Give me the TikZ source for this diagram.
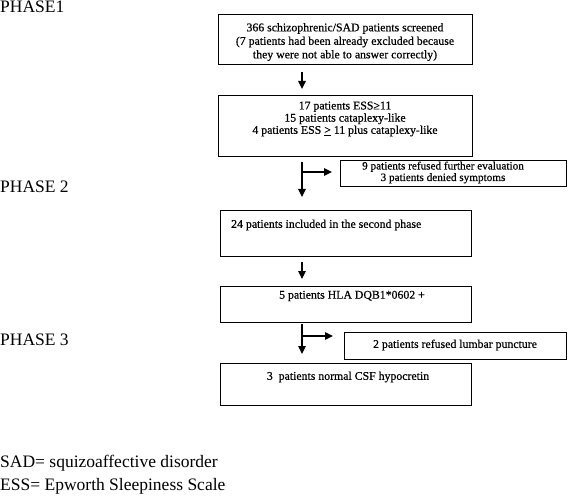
\documentclass[tikz,border=0pt]{standalone}
\usepackage{fontspec}
\setmainfont{Liberation Serif}
\newfontfamily\boxfont[FakeBold=0.5]{Liberation Serif}
\usetikzlibrary{arrows.meta}
\begin{document}
\begin{tikzpicture}[x=1pt,y=-1pt,
  box/.style={draw, line width=1.2pt, inner sep=0pt, anchor=north west},
  txt/.style={inner sep=0pt, align=center, font=\boxfont\fontsize{11.8}{13.5}\selectfont},
  stxt/.style={txt, font=\boxfont\fontsize{11.2}{11.5}\selectfont},
  big/.style={inner sep=0pt, anchor=base west, font=\fontsize{17.5}{20}\selectfont},
  arr/.style={line width=1.2pt, -{Triangle[length=8pt,width=7.5pt]}}]
\useasboundingbox (0,0) rectangle (568,500);
% boxes
\node[box, minimum width=254pt, minimum height=50pt] (b1) at (218,14) {};
\node[box, minimum width=254pt, minimum height=61pt] (b2) at (218,95) {};
\node[box, minimum width=226pt, minimum height=26pt] (s1) at (340,160) {};
\node[box, minimum width=251pt, minimum height=46pt] (b3) at (220,210) {};
\node[box, minimum width=251pt, minimum height=36pt] (b4) at (220,286) {};
\node[box, minimum width=222pt, minimum height=27pt] (s2) at (344,332) {};
\node[box, minimum width=251pt, minimum height=42pt] (b5) at (220,363) {};
% texts
\node[txt] (t1) at (345,42) {366 schizophrenic/SAD patients screened\\(7 patients had been already excluded because\\they were not able to answer correctly)};
\node[stxt, font=\boxfont\fontsize{11.8}{12.2}\selectfont] (t2) at (345,119) {17 patients ESS≥11\\15 patients cataplexy-like\\4 patients ESS \underline{>} 11 plus cataplexy-like};
\node[stxt] (ts1) at (443,172.5) {9 patients refused further evaluation\\3 patients denied symptoms};
\node[txt, anchor=west] (t3) at (231,225) {24 patients included in the second phase};
\node[txt] (t4) at (352,296) {5 patients HLA DQB1*0602 +};
\node[txt] (ts2) at (455,345) {2 patients refused lumbar puncture};
\node[txt] (t5) at (348,377) {3\ \ patients normal CSF hypocretin};
% phase labels
\node[big] (p1) at (0,13) {PHASE1};
\node[big] (p2) at (0,193) {PHASE 2};
\node[big] (p3) at (0,345) {PHASE 3};
\node[big] (n1) at (0,467) {SAD= squizoaffective disorder};
\node[big] (n2) at (0,490) {ESS= Epworth Sleepiness Scale};
% connectors
\coordinate (ax) at (302,0);
\coordinate (v1a) at (302,72);
\coordinate (v1b) at (302,89);
\coordinate (v3a) at (302,262);
\coordinate (v3b) at (302,279);
\coordinate (h1) at (0,172);
\coordinate (h2) at (0,336);
\draw[arr] (v1a) -- (v1b);
\draw[arr, shorten <=5pt, shorten >=13pt] (b2.south -| ax) -- (b3.north -| ax);
\draw[arr, shorten >=8pt] (h1 -| ax) -- (h1 -| s1.west);
\draw[arr] (v3a) -- (v3b);
\draw[arr, shorten <=1pt, shorten >=9pt] (b4.south -| ax) -- (b5.north -| ax);
\draw[arr, shorten >=11pt] (h2 -| ax) -- (h2 -| s2.west);
\end{tikzpicture}
\end{document}
